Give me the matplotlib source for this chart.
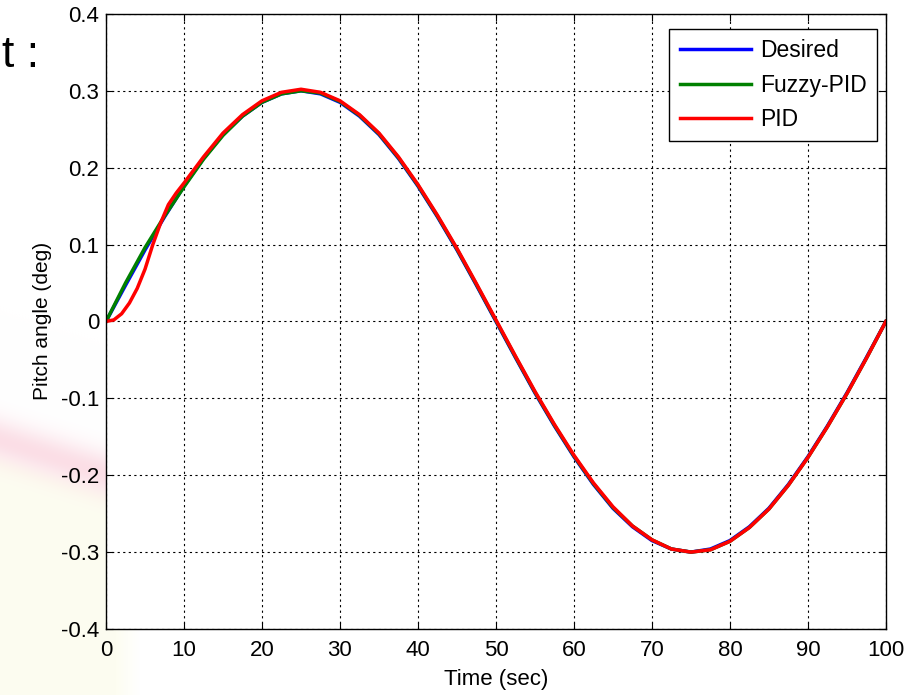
import numpy as np
import matplotlib
matplotlib.use('Agg')
import matplotlib.pyplot as plt

plt.rcParams['font.family'] = ['Liberation Sans', 'DejaVu Sans']

# time base (sec)
t = [0, 2.5, 5, 7.5, 10, 12.5, 15, 17.5, 20, 22.5, 25, 27.5, 30, 32.5, 35, 37.5,
     40, 42.5, 45, 47.5, 50, 52.5, 55, 57.5, 60, 62.5, 65, 67.5, 70, 72.5, 75,
     77.5, 80, 82.5, 85, 87.5, 90, 92.5, 95, 97.5, 100]

# pitch angle responses (deg)
desired = [0.000, 0.047, 0.093, 0.136, 0.176, 0.212, 0.243, 0.267, 0.285, 0.296,
           0.300, 0.296, 0.285, 0.267, 0.243, 0.212, 0.176, 0.136, 0.093, 0.047,
           0.000, -0.047, -0.093, -0.136, -0.176, -0.212, -0.243, -0.267, -0.285,
           -0.296, -0.300, -0.296, -0.285, -0.267, -0.243, -0.212, -0.176, -0.136,
           -0.093, -0.047, 0.000]
fuzzy_pid = [0.000, 0.050, 0.096, 0.137, 0.175, 0.211, 0.242, 0.267, 0.285, 0.296,
             0.300, 0.297, 0.286, 0.268, 0.244, 0.213, 0.177, 0.137, 0.094, 0.048,
             0.001, -0.046, -0.092, -0.135, -0.175, -0.211, -0.242, -0.266, -0.284,
             -0.296, -0.300, -0.297, -0.286, -0.268, -0.244, -0.213, -0.177, -0.137,
             -0.094, -0.048, 0.000]
pid_t = [0, 1, 2, 3, 4, 5, 6, 7, 8, 9, 10, 12.5, 15, 17.5, 20, 22.5, 25, 27.5, 30,
         32.5, 35, 37.5, 40, 42.5, 45, 47.5, 50, 52.5, 55, 57.5, 60, 62.5, 65, 67.5,
         70, 72.5, 75, 77.5, 80, 82.5, 85, 87.5, 90, 92.5, 95, 97.5, 100]
pid = [0.000, 0.002, 0.010, 0.024, 0.043, 0.068, 0.100, 0.128, 0.152, 0.167, 0.180,
       0.214, 0.245, 0.269, 0.287, 0.298, 0.302, 0.298, 0.287, 0.269, 0.245, 0.214,
       0.178, 0.138, 0.095, 0.049, 0.002, -0.045, -0.091, -0.134, -0.174, -0.210,
       -0.241, -0.266, -0.284, -0.296, -0.300, -0.297, -0.286, -0.268, -0.244,
       -0.213, -0.177, -0.137, -0.094, -0.048, 0.000]

fig = plt.figure(figsize=(9.18, 6.95), dpi=100)

# slide backdrop behind the plot: cream corner with a pink stripe
h, w = 695, 918
yy, xx = np.mgrid[0:h, 0:w]
bg = np.ones((h, w, 3))
cream = np.clip((140 - xx) / 25, 0, 1) * np.clip((yy - (450 + 0.32 * xx)) / 15, 0, 1)
bg -= cream[..., None] * np.array([0.008, 0.008, 0.055])
band_c = 440 + 0.32 * xx
pink = np.exp(-((yy - band_c) / 22) ** 2) * np.clip((170 - xx) / 60, 0, 1)
pink_rgb = np.array([0.98, 0.83, 0.87])
bg = bg * (1 - pink[..., None] * 0.75) + pink[..., None] * 0.75 * pink_rgb
bax = fig.add_axes([0, 0, 1, 1])
bax.imshow(bg, aspect='auto', extent=[0, 1, 0, 1])
bax.axis('off')

fig.text(0.002, 0.92, 't :', fontsize=32, ha='left', va='center')
fig.text(0.041, -0.016, '0.025', fontsize=15, ha='left', va='center')

ax = fig.add_axes([0.1155, 0.095, 0.8495, 0.885])
ax.set_facecolor('white')
ax.plot(t, desired, color='#0000ff', lw=2.5, label='Desired')
ax.plot(t, fuzzy_pid, color='#008000', lw=2.5, label='Fuzzy-PID')
ax.plot(pid_t, pid, color='#ff0000', lw=2.5, label='PID')

ax.set_xlim(0, 100)
ax.set_ylim(-0.4, 0.4)
ax.set_xticks(range(0, 101, 10))
ax.set_yticks(np.round(np.arange(-0.4, 0.41, 0.1), 1))
ax.set_yticklabels(['-0.4', '-0.3', '-0.2', '-0.1', '0', '0.1', '0.2', '0.3', '0.4'])
ax.grid(True, color='black', linestyle=(0, (2, 3)), linewidth=0.8)
ax.tick_params(direction='in', top=True, right=True, labelsize=16, length=5)
ax.tick_params(axis='x', pad=8)
ax.tick_params(axis='y', pad=5)
for s in ax.spines.values():
    s.set_linewidth(1.0)
ax.set_xlabel('Time (sec)', fontsize=16, labelpad=6)
ax.set_ylabel('Pitch angle (deg)', fontsize=15, labelpad=6)

leg = ax.legend(loc='upper right', bbox_to_anchor=(0.9885, 0.9756), fontsize=16.5,
                fancybox=False, framealpha=1, edgecolor='black', borderaxespad=0,
                handlelength=3.1, handletextpad=0.4, borderpad=0.45,
                labelspacing=0.5)
leg.get_frame().set_linewidth(1.0)

fig.savefig('out.png', dpi=100)
